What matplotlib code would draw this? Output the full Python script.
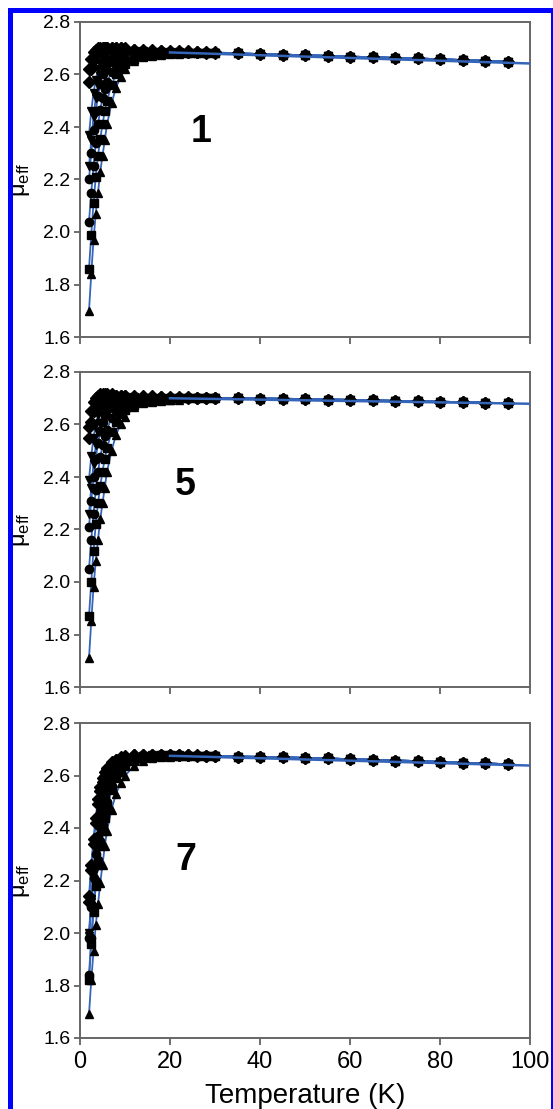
import matplotlib.pyplot as plt
import matplotlib.patches as mpatches

plt.rcParams['font.family'] = ['Liberation Sans', 'DejaVu Sans']

# temperatures (K)
temps_low = [2, 2.5, 3, 3.5, 4, 4.5, 5, 5.5, 6, 7, 8, 9, 10, 12, 14, 16, 18, 20, 22, 24, 26, 28, 30]
temps_high = [35, 40, 45, 50, 55, 60, 65, 70, 75, 80, 85, 90, 95]
markers = ['D', 'D', 'v', 'v', 'o', 'o', 's', '^']

# compound 1
mu1_low = [
    [2.62, 2.66, 2.685, 2.695, 2.70, 2.70, 2.70, 2.70, 2.70, 2.70, 2.70, 2.70, 2.70, 2.695, 2.695, 2.695, 2.69, 2.69, 2.69, 2.69, 2.685, 2.685, 2.685],
    [2.57, 2.62, 2.655, 2.675, 2.69, 2.695, 2.70, 2.70, 2.70, 2.70, 2.70, 2.70, 2.695, 2.695, 2.69, 2.69, 2.69, 2.685, 2.685, 2.685, 2.685, 2.68, 2.68],
    [2.37, 2.46, 2.53, 2.58, 2.62, 2.645, 2.66, 2.67, 2.68, 2.69, 2.69, 2.69, 2.69, 2.69, 2.69, 2.685, 2.685, 2.685, 2.685, 2.68, 2.68, 2.68, 2.68],
    [2.25, 2.35, 2.44, 2.51, 2.56, 2.595, 2.62, 2.64, 2.655, 2.67, 2.68, 2.685, 2.685, 2.685, 2.685, 2.685, 2.685, 2.68, 2.68, 2.68, 2.68, 2.68, 2.68],
    [2.20, 2.30, 2.39, 2.46, 2.52, 2.565, 2.60, 2.62, 2.64, 2.66, 2.67, 2.675, 2.68, 2.685, 2.685, 2.685, 2.68, 2.68, 2.68, 2.68, 2.68, 2.68, 2.68],
    [2.04, 2.15, 2.25, 2.34, 2.41, 2.465, 2.51, 2.545, 2.57, 2.61, 2.635, 2.65, 2.66, 2.67, 2.675, 2.68, 2.68, 2.68, 2.68, 2.68, 2.68, 2.68, 2.68],
    [1.86, 1.99, 2.11, 2.21, 2.29, 2.355, 2.41, 2.46, 2.50, 2.56, 2.60, 2.625, 2.64, 2.66, 2.67, 2.675, 2.678, 2.68, 2.68, 2.68, 2.68, 2.68, 2.68],
    [1.70, 1.84, 1.97, 2.07, 2.15, 2.23, 2.29, 2.35, 2.41, 2.49, 2.55, 2.59, 2.62, 2.65, 2.665, 2.67, 2.675, 2.677, 2.678, 2.68, 2.68, 2.68, 2.68],
]
mu1_high = [2.680, 2.678, 2.676, 2.673, 2.671, 2.668, 2.666, 2.663, 2.661, 2.658, 2.655, 2.652, 2.649]
fit1_T = [20, 100]
fit1_mu = [2.684, 2.642]

# compound 5
mu5_low = [
    [2.59, 2.65, 2.685, 2.70, 2.71, 2.715, 2.715, 2.715, 2.715, 2.715, 2.71, 2.71, 2.71, 2.71, 2.71, 2.71, 2.705, 2.705, 2.705, 2.705, 2.70, 2.70, 2.70],
    [2.55, 2.61, 2.65, 2.68, 2.695, 2.705, 2.71, 2.71, 2.71, 2.71, 2.71, 2.71, 2.71, 2.705, 2.705, 2.705, 2.705, 2.70, 2.70, 2.70, 2.70, 2.70, 2.70],
    [2.39, 2.48, 2.55, 2.60, 2.635, 2.66, 2.675, 2.685, 2.695, 2.70, 2.705, 2.705, 2.705, 2.705, 2.70, 2.70, 2.70, 2.70, 2.70, 2.70, 2.70, 2.70, 2.70],
    [2.26, 2.36, 2.45, 2.52, 2.57, 2.605, 2.635, 2.655, 2.67, 2.685, 2.695, 2.70, 2.70, 2.70, 2.70, 2.70, 2.70, 2.70, 2.70, 2.70, 2.70, 2.70, 2.70],
    [2.21, 2.31, 2.40, 2.47, 2.53, 2.575, 2.61, 2.635, 2.655, 2.675, 2.685, 2.69, 2.695, 2.70, 2.70, 2.70, 2.70, 2.70, 2.70, 2.70, 2.70, 2.70, 2.70],
    [2.05, 2.16, 2.26, 2.35, 2.42, 2.475, 2.52, 2.555, 2.58, 2.625, 2.65, 2.665, 2.675, 2.685, 2.69, 2.695, 2.695, 2.70, 2.70, 2.70, 2.70, 2.70, 2.70],
    [1.87, 2.00, 2.12, 2.22, 2.30, 2.365, 2.42, 2.47, 2.51, 2.57, 2.61, 2.64, 2.655, 2.675, 2.685, 2.69, 2.695, 2.695, 2.70, 2.70, 2.70, 2.70, 2.70],
    [1.71, 1.85, 1.98, 2.08, 2.16, 2.24, 2.30, 2.36, 2.42, 2.50, 2.56, 2.60, 2.63, 2.665, 2.68, 2.685, 2.69, 2.695, 2.695, 2.70, 2.70, 2.70, 2.70],
]
mu5_high = [2.700, 2.699, 2.698, 2.697, 2.695, 2.694, 2.692, 2.690, 2.689, 2.687, 2.685, 2.683, 2.681]
fit5_T = [20, 100]
fit5_mu = [2.700, 2.679]

# compound 7
mu7_low = [
    [2.14, 2.26, 2.36, 2.44, 2.51, 2.555, 2.59, 2.615, 2.63, 2.65, 2.66, 2.67, 2.675, 2.68, 2.68, 2.68, 2.68, 2.68, 2.678, 2.678, 2.677, 2.676, 2.675],
    [2.12, 2.24, 2.34, 2.42, 2.49, 2.54, 2.575, 2.60, 2.62, 2.645, 2.66, 2.665, 2.67, 2.678, 2.68, 2.68, 2.68, 2.68, 2.678, 2.677, 2.676, 2.675, 2.675],
    [2.00, 2.13, 2.24, 2.33, 2.41, 2.465, 2.51, 2.545, 2.575, 2.615, 2.635, 2.65, 2.66, 2.67, 2.675, 2.678, 2.678, 2.678, 2.677, 2.676, 2.676, 2.675, 2.675],
    [1.99, 2.12, 2.23, 2.32, 2.40, 2.455, 2.50, 2.535, 2.565, 2.605, 2.63, 2.645, 2.655, 2.668, 2.673, 2.676, 2.677, 2.677, 2.676, 2.676, 2.675, 2.675, 2.675],
    [1.98, 2.10, 2.21, 2.30, 2.37, 2.43, 2.48, 2.52, 2.55, 2.595, 2.62, 2.64, 2.65, 2.665, 2.672, 2.675, 2.676, 2.676, 2.676, 2.675, 2.675, 2.675, 2.675],
    [1.84, 1.98, 2.10, 2.20, 2.28, 2.35, 2.41, 2.46, 2.50, 2.56, 2.60, 2.625, 2.64, 2.66, 2.668, 2.672, 2.674, 2.675, 2.675, 2.675, 2.675, 2.675, 2.675],
    [1.82, 1.96, 2.08, 2.18, 2.26, 2.33, 2.39, 2.44, 2.48, 2.545, 2.59, 2.615, 2.635, 2.655, 2.665, 2.67, 2.673, 2.675, 2.675, 2.675, 2.675, 2.675, 2.675],
    [1.69, 1.82, 1.93, 2.03, 2.11, 2.19, 2.26, 2.33, 2.39, 2.47, 2.53, 2.57, 2.60, 2.635, 2.655, 2.665, 2.67, 2.672, 2.674, 2.675, 2.675, 2.675, 2.675],
]
mu7_high = [2.672, 2.671, 2.669, 2.667, 2.665, 2.662, 2.660, 2.657, 2.655, 2.652, 2.649, 2.646, 2.643]
fit7_T = [20, 100]
fit7_mu = [2.675, 2.638]

panels = [
    ('1', mu1_low, mu1_high, fit1_T, fit1_mu, (27, 2.38)),
    ('5', mu5_low, mu5_high, fit5_T, fit5_mu, (23.5, 2.37)),
    ('7', mu7_low, mu7_high, fit7_T, fit7_mu, (23.5, 2.28)),
]

W, H = 553, 1109
fig = plt.figure(figsize=(W / 100, H / 100), dpi=100)

# blue frame around the figure
frame = mpatches.Rectangle((9.5 / W, -0.05), (552.5 - 9.5) / W, 1.05 - 9.5 / H,
                           transform=fig.transFigure, fill=False,
                           edgecolor='#0000ff', linewidth=3.6, zorder=10)
fig.patches.append(frame)

tops = [22, 372, 723]
ax_h = 315
line_col = '#3565b8'

for i, (name, low, high, fT, fmu, lab) in enumerate(panels):
    top = tops[i]
    ax = fig.add_axes([80 / W, 1 - (top + ax_h) / H, 450 / W, ax_h / H])
    T = temps_low + temps_high
    for j, series in enumerate(low):
        mu = series + high
        ax.plot(T, mu, color=line_col, lw=1.3, zorder=2)
        ax.plot(T, mu, color='black', lw=0, marker=markers[j], ms=6,
                zorder=3)
    ax.plot(fT, fmu, color=line_col, lw=1.8, zorder=4)
    ax.text(lab[0], lab[1], name, fontsize=27, fontweight='bold',
            ha='center', va='center')

    ax.set_xlim(0, 100)
    ax.set_ylim(1.6, 2.8)
    ax.set_xticks([0, 20, 40, 60, 80, 100])
    ax.set_yticks([1.6, 1.8, 2.0, 2.2, 2.4, 2.6, 2.8])
    ax.set_yticklabels(['1.6', '1.8', '2.0', '2.2', '2.4', '2.6', '2.8'])
    ax.tick_params(axis='y', direction='out', length=4, width=1.2,
                   color='#555555', labelsize=14, pad=3)
    ax.tick_params(axis='x', direction='out', length=5, width=1.2,
                   color='#555555', labelsize=17, pad=4)
    if i < 2:
        ax.tick_params(axis='x', labelbottom=False)
    for sp in ax.spines.values():
        sp.set_color('#666666')
        sp.set_linewidth(1.4)
    ax.set_ylabel('μ$_{\\mathregular{eff}}$', fontsize=17)
    ax.yaxis.set_label_coords(-0.107, 0.5)

fig.text(305 / W, 1 - 1103 / H, 'Temperature (K)', fontsize=20,
         ha='center', va='baseline')

fig.savefig('out.png', dpi=100)
